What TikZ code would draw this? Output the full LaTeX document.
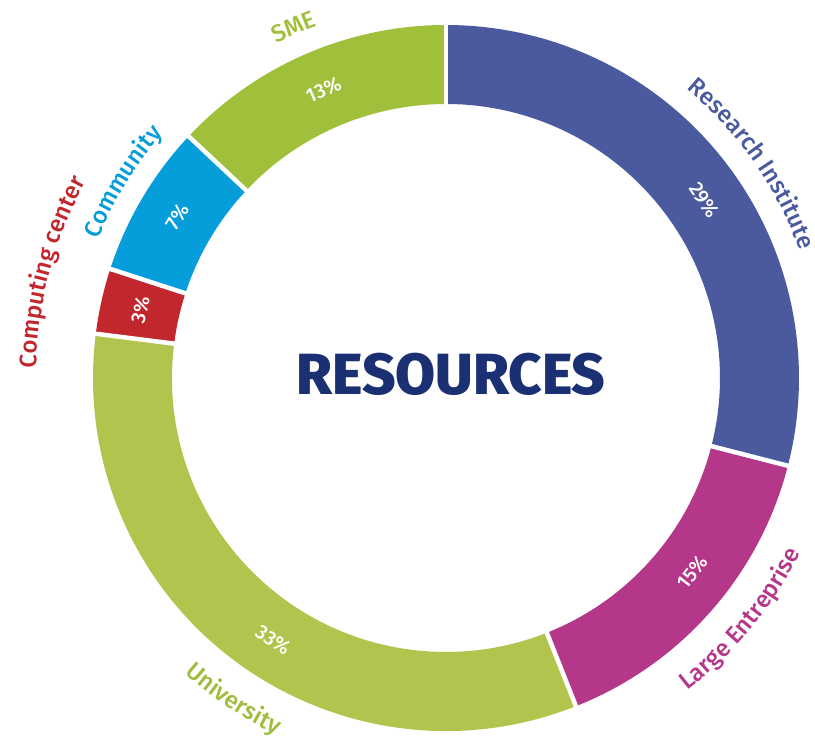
\documentclass[tikz,border=0pt]{standalone}
\usepackage{fontspec}
\setmainfont{Fira Sans}
\newfontfamily\labfont{Fira Sans Medium}
\newfontfamily\titlefont{Fira Sans ExtraBold}
\usetikzlibrary{decorations.text}
\definecolor{cRes}{HTML}{4B5A9F}
\definecolor{cLarge}{HTML}{B5378A}
\definecolor{cUni}{HTML}{B2C44D}
\definecolor{cUniTxt}{HTML}{9DBE3B}
\definecolor{cComp}{HTML}{C1272D}
\definecolor{cComm}{HTML}{069DDB}
\definecolor{cSME}{HTML}{A0BF3A}
\definecolor{cTitle}{HTML}{1B2F73}
\newcommand\myseg[3]{%
  \fill[#3] (#1:353) arc[start angle=#1, end angle=#2, radius=353]
    -- (#2:274) arc[start angle=#2, end angle=#1, radius=274] -- cycle;}
\newcommand\labsize{\labfont\fontsize{24}{24}\selectfont}
\tikzset{
  pct/.style={text=white, font=\labfont\fontsize{20}{20}\selectfont, inner sep=0pt},
  sep/.style={white, line width=4.5pt},
}
\begin{document}
\begin{tikzpicture}[x=1pt,y=1pt]
\useasboundingbox (-446,-361) rectangle (369,378);
% segments
\myseg{90}{-14.4}{cRes}
\myseg{-14.4}{-68.4}{cLarge}
\myseg{-68.4}{-187.2}{cUni}
\myseg{172.8}{162}{cComp}
\myseg{162}{136.8}{cComm}
\myseg{136.8}{90}{cSME}
% separators
\foreach \a in {90,-14.4,-68.4,172.8,162,136.8}
  \draw[sep] (\a:270) -- (\a:357);
% percentages
\node[pct, rotate=-55.4] (p29) at (34.6:314) {29\%};
\node[pct, rotate=51.7] (p15) at (-38.3:314) {15\%};
\node[pct, rotate=-33.4] (p33) at (-123.4:314) {33\%};
\node[pct, rotate=77.5] (p3) at (167.5:313) {3\%};
\node[pct, rotate=59] (p7) at (149:313) {7\%};
\node[pct, rotate=23] (p13) at (113:313) {13\%};
% outer labels (clockwise, tops outward)
\path[decorate, decoration={text along path, text align=center,
  text={|\labsize\color{cRes}|Research Institute}}]
  (75:376) arc[start angle=75, end angle=-5, radius=376];
\path[decorate, decoration={text along path, text align=center,
  text={|\labsize\color{cSME}|SME}}]
  (153.5:375) arc[start angle=153.5, end angle=73.5, radius=375];
\path[decorate, decoration={text along path, text align=center,
  text={|\labsize\color{cComm}|Community}}]
  (188.7:374) arc[start angle=188.7, end angle=108.7, radius=374];
\path[decorate, decoration={text along path, text align=center,
  text={|\labsize\color{cComp}|Computing center}}]
  (205:410) arc[start angle=205, end angle=125, radius=410];
% outer labels (counter-clockwise, tops inward)
\path[decorate, decoration={text along path, text align=center,
  text={|\labsize\color{cLarge}|Large Entreprise}}]
  (-79.3:395) arc[start angle=-79.3, end angle=0.7, radius=395];
\path[decorate, decoration={text along path, text align=center,
  text={|\labsize\color{cUniTxt}|University}}]
  (-163.5:395) arc[start angle=-163.5, end angle=-83.5, radius=395];
% title
\node[font=\titlefont\fontsize{58}{58}\selectfont, text=cTitle, anchor=base, inner sep=0pt] (title) at (5,-17) {RESOURCES};
\end{tikzpicture}
\end{document}
